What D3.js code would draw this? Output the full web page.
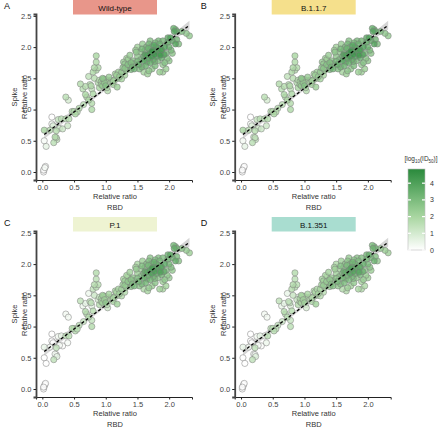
<!DOCTYPE html>
<html><head><meta charset="utf-8">
<script src="https://cdn.jsdelivr.net/npm/d3@7"></script>
<style>body{margin:0;background:#fff;} text{font-family:"Liberation Sans",Arial,sans-serif;}</style>
</head><body>
<svg id="c" width="440" height="430"></svg>
<script>
const variants = ["Wild-type", "B.1.1.7", "P.1", "B.1.351"];
const panelLetters = ["A", "B", "C", "D"];
const stripColors = ["#E8968A", "#F5E08C", "#EEF3D2", "#A9DDD0"];
const xTicks = [0, 0.5, 1.0, 1.5, 2.0];
const yTicks = [0, 0.5, 1.0, 1.5, 2.0, 2.5];
const legendTicks = [0, 1, 2, 3, 4];

const rbd = [0.02,0.03,0.04,0.05,0.02,0.03,0.03,0.06,0.15,0.15,0.17,0.12,0.18,0.20,0.22,0.23,0.22,0.27,0.25,0.30,0.32,0.37,0.42,0.40,0.37,0.41,0.47,0.50,0.52,0.60,0.64,0.68,0.70,0.73,0.73,0.75,0.78,0.78,0.78,0.80,0.82,0.85,0.85,0.85,0.88,0.82,0.88,0.90,0.90,0.93,0.95,0.97,1.00,1.00,1.02,1.03,0.95,1.05,1.08,1.10,1.12,1.15,1.17,1.20,1.20,1.22,1.25,1.18,1.25,1.27,1.30,1.28,1.30,1.32,1.35,1.35,1.38,1.40,1.40,1.42,1.45,1.45,1.47,1.50,1.50,1.52,1.55,1.55,1.57,1.58,1.60,1.60,1.62,1.63,1.64,1.65,1.67,1.66,1.68,1.68,1.70,1.70,1.72,1.72,1.73,1.75,1.75,1.77,1.78,1.78,1.80,1.80,1.82,1.82,1.84,1.85,1.85,1.87,1.88,1.90,1.90,1.92,1.93,1.95,1.97,1.98,2.00,2.00,2.02,2.03,2.05,2.07,2.08,2.10,2.10,2.12,2.15,2.20,2.27,2.32,2.12,1.95,1.90,1.88,1.43,1.48,1.53,1.60,1.57,1.62,1.67,1.73,1.77,1.80,1.70,1.65,1.86,1.93,1.98,2.05,1.76,1.83,1.50,1.38,1.33,1.30,1.12,1.05,1.15,0.98,0.93,0.68,0.77,0.80,0.55,0.58,0.65];
const spike = [0.00,0.04,0.07,0.09,0.03,0.67,0.50,0.41,0.88,0.77,0.74,0.67,0.47,0.56,0.55,0.52,0.66,0.70,0.84,0.85,0.69,0.85,0.85,0.74,1.20,1.15,0.97,0.97,0.93,1.41,1.33,1.24,1.20,1.15,1.53,1.40,1.00,1.10,1.33,1.60,1.67,1.63,1.86,1.76,1.67,1.50,1.43,1.35,1.47,1.45,1.50,1.49,1.48,1.38,1.35,1.30,1.38,1.45,1.47,1.43,1.46,1.48,1.55,1.50,1.60,1.53,1.49,1.36,1.60,1.67,1.66,1.76,1.55,1.63,1.72,1.80,1.87,1.75,1.64,1.68,1.65,1.73,1.95,2.00,1.85,1.72,1.80,1.92,1.68,2.05,1.85,1.78,1.95,1.70,2.00,1.87,1.82,1.57,1.62,2.05,1.90,1.75,2.00,1.85,1.65,1.95,1.80,1.88,2.07,1.70,1.93,1.85,1.98,1.78,1.90,2.05,1.60,1.95,1.83,1.72,2.10,1.88,2.00,1.90,1.82,2.15,2.00,1.78,2.15,1.95,2.10,2.30,2.25,2.28,2.05,2.12,2.05,2.25,2.22,2.18,2.25,1.65,1.60,1.95,1.78,1.92,1.65,1.60,1.97,1.88,1.98,1.93,1.77,2.00,2.10,1.76,1.87,1.75,2.08,1.90,2.03,2.10,1.77,1.70,1.82,1.73,1.40,1.52,1.57,1.43,1.40,1.37,1.38,1.25,0.96,1.02,1.08];
const id50WildType = [0,0,0.2,0,0,2.0,0.2,0.6,0,0.3,0.8,1.5,1.6,1.8,1.5,1.3,1.7,1.2,1.4,1.6,1.2,1.6,1.7,1.2,1.6,1.0,1.8,1.8,1.9,1.8,1.6,1.9,1.8,1.9,1.5,1.7,1.9,1.8,1.5,1.9,1.9,1.8,2.0,1.9,1.8,1.7,1.8,2.0,1.8,2.1,2.6,2.3,2.2,2.8,1.9,1.7,2.5,2.0,1.9,2.0,2.2,2.1,2.3,2.0,2.2,2.4,2.1,2.3,2.5,2.6,2.7,2.4,2.0,2.5,2.8,2.3,2.4,2.9,3.0,3.2,3.4,2.8,2.3,2.2,2.6,3.6,3.0,2.5,3.3,2.4,3.5,3.8,2.9,3.4,3.0,4.0,3.7,2.2,2.6,3.1,4.2,3.6,3.3,4.3,2.5,3.9,3.5,4.4,3.2,3.0,4.1,3.8,3.5,2.9,4.0,3.4,2.3,4.2,3.6,2.4,3.3,3.9,4.1,3.1,2.7,3.7,3.5,2.6,4.0,3.0,3.6,3.4,3.8,3.2,3.9,3.3,2.9,2.8,2.6,2.5,3.5,2.3,2.2,3.8,2.7,2.6,2.9,2.1,3.2,3.9,3.4,4.5,3.2,3.7,2.8,3.3,4.3,2.8,3.6,2.7,3.8,3.1,3.1,2.6,2.2,2.5,2.0,2.4,2.1,2.5,2.2,1.7,1.8,1.9,1.8,1.7,1.6];
const id50B117 = [0,0,0,0,0,2.0,0.3,0.6,0,0.2,0.8,1.5,1.6,1.2,1.5,1.3,1.7,1.2,1.4,1.6,1.2,1.6,1.7,1.2,1.6,1.0,1.8,1.8,1.9,1.8,1.6,1.9,1.8,1.9,1.5,1.7,1.9,1.8,1.5,1.9,1.9,1.8,2.0,1.9,1.8,1.7,1.8,2.0,1.8,2.1,2.6,2.3,2.2,2.8,1.9,1.7,2.5,2.0,1.9,2.0,2.2,2.1,2.3,2.0,2.2,2.4,2.1,2.3,2.5,2.6,2.7,2.4,2.0,2.5,2.8,2.3,2.4,2.9,3.0,3.2,3.4,2.8,2.3,2.2,2.6,3.6,3.0,2.5,3.3,2.4,3.5,3.8,2.9,3.4,3.0,4.0,3.7,2.2,2.6,3.1,4.2,3.6,3.3,4.3,2.5,3.9,3.5,4.4,3.2,3.0,4.1,3.8,3.5,2.9,4.0,3.4,2.3,4.2,3.6,2.4,3.3,3.9,4.1,3.1,2.7,3.7,3.5,2.6,4.0,3.0,3.6,3.4,3.8,3.2,3.9,3.3,2.9,2.8,2.6,2.5,3.5,2.3,2.2,3.8,2.7,2.6,2.9,2.1,3.2,3.9,3.4,4.5,3.2,3.7,2.8,3.3,4.3,2.8,3.6,2.7,3.8,3.1,3.1,2.6,2.2,2.5,2.0,2.4,2.1,2.5,2.2,1.7,1.8,1.9,1.8,1.7,1.6];
const id50P1 = [0,0,0,0,0,0.5,0,0,0,0,0,0.2,1.5,0.3,0.2,0.6,1.5,0.2,0.3,0.5,0.1,1.5,1.6,0.2,0.3,0.3,1.8,1.5,1.6,1.5,0.4,1.8,1.5,1.8,0.4,1.5,1.8,1.4,0.6,1.5,1.7,1.6,1.8,1.6,1.6,1.2,1.0,1.8,1.3,1.9,2.2,2.0,2.0,2.6,1.6,1.2,2.2,1.7,1.6,1.8,2.0,1.8,2.0,1.8,2.0,2.1,1.8,2.2,2.2,2.3,2.5,2.0,1.8,2.3,2.6,2.0,2.2,2.7,2.8,2.9,3.1,2.6,2.1,2.0,2.3,3.3,2.8,2.2,3.0,2.3,3.2,3.5,2.7,3.2,2.8,3.7,3.4,2.0,2.4,2.9,3.9,3.3,3.0,4.0,2.3,3.6,3.2,4.1,3.0,2.7,3.8,3.5,3.2,2.6,3.7,3.1,2.1,3.9,3.3,2.2,3.0,3.6,3.8,2.8,2.5,3.4,3.2,2.4,3.7,2.8,3.3,3.1,3.5,2.9,3.6,3.0,2.7,2.6,2.4,2.3,3.2,2.1,2.0,3.5,2.5,2.4,2.7,1.9,2.9,3.6,3.1,4.2,2.9,3.4,2.6,3.0,4.0,2.6,3.3,2.5,3.5,2.8,2.8,2.4,2.0,2.3,1.8,2.1,1.9,2.2,1.9,0.6,1.5,1.7,1.6,1.5,1.3];
const id50B1351 = [0,0,0,0,0,0.5,0,0,0,0,0,0.3,1.5,0.2,0.2,0.8,1.5,0.2,0.3,0.5,0.1,0.3,1.6,0.4,0.3,0.3,1.5,1.6,1.6,1.5,0.5,1.7,1.6,1.6,0.5,1.5,1.6,1.3,0.8,1.7,1.8,1.6,1.8,1.6,1.6,1.3,1.2,1.8,0.6,1.9,2.0,1.9,1.8,2.2,0.5,1.0,2.0,1.7,1.5,1.7,1.8,1.7,1.9,1.6,1.9,2.0,1.7,2.2,2.0,2.2,2.4,2.0,1.6,2.1,2.4,1.9,2.1,2.5,2.6,2.8,2.9,2.4,2.0,1.9,2.2,3.1,2.7,2.1,2.8,2.2,3.0,3.3,2.5,3.0,2.6,3.5,3.2,1.8,2.2,2.7,3.7,3.1,2.9,3.8,2.1,3.4,3.0,3.9,2.8,2.5,3.6,3.3,3.0,2.5,3.5,3.0,1.9,3.7,3.1,2.0,2.9,3.4,3.6,2.7,2.3,3.2,3.1,2.2,3.5,2.6,3.2,3.0,3.3,2.8,3.4,2.9,2.5,2.4,2.3,2.2,3.1,1.9,1.8,3.3,2.3,2.2,2.5,1.8,2.8,3.4,3.0,4.0,2.8,3.2,2.4,2.9,3.8,2.4,3.2,2.3,3.3,2.7,2.7,2.2,1.9,2.2,1.7,2.0,1.8,2.1,1.8,0.6,1.4,1.7,1.5,1.4,1.2];
const id50ByVariant = [id50WildType, id50B117, id50P1, id50B1351];

const fitX = [0.03, 0.5, 1.0, 1.5, 2.0, 2.32];
const fitY = [0.60, 0.96, 1.34, 1.73, 2.11, 2.35];
const bandHalf = [0.07, 0.04, 0.025, 0.025, 0.045, 0.07];

const svg = d3.select("#c");
const color = d3.scaleLinear().domain([0, 2, 4.85]).range(["#ffffff", "#a8d6a0", "#2a8a3c"]).clamp(true);

const offsets = [[0,0],[198.7,0],[0,217],[198.7,217]];

variants.forEach((v, i) => {
  const [dx, dy] = offsets[i];
  const g = svg.append("g").attr("transform", `translate(${dx},${dy})`);
  const x = d3.scaleLinear().domain([-0.1, 2.36]).range([36, 192]);
  const y = d3.scaleLinear().domain([-0.128, 2.53]).range([180, 14]);

  // strip
  g.append("rect").attr("x", 73).attr("y", 0).attr("width", 84).attr("height", 14.5).attr("fill", stripColors[i]);
  g.append("text").attr("x", 115).attr("y", 10.5).attr("text-anchor", "middle").attr("font-size", 8).attr("fill", "#111").text(v);
  g.append("text").attr("x", i % 2 ? 2 : 4).attr("y", 9).attr("font-size", 9).attr("fill", "#111").text(panelLetters[i]);

  // band + fit
  const band = d3.area().x((d, k) => x(fitX[k])).y0((d, k) => y(fitY[k] - bandHalf[k])).y1((d, k) => y(fitY[k] + bandHalf[k])).curve(d3.curveMonotoneX);
  g.append("path").datum(fitX).attr("d", band).attr("fill", "#cfcfcf").attr("opacity", 0.85);

  const id = id50ByVariant[i];
  const idx = d3.range(rbd.length).sort((a, b) => id[a] - id[b]);
  g.append("g").selectAll("circle").data(idx).join("circle")
    .attr("cx", k => x(rbd[k])).attr("cy", k => y(spike[k])).attr("r", 3.1)
    .attr("fill", k => color(id[k])).attr("fill-opacity", 0.8)
    .attr("stroke", "#7d7d7d").attr("stroke-width", 0.6).attr("stroke-opacity", 0.85);

  g.append("path").datum(fitX).attr("d", d3.line().x((d, k) => x(fitX[k])).y((d, k) => y(fitY[k])))
    .attr("fill", "none").attr("stroke", "#000").attr("stroke-width", 1.3).attr("stroke-dasharray", "3,2.2");

  // axes
  const xa = g.append("g").attr("transform", "translate(0,180)").call(d3.axisBottom(x).tickValues(xTicks).tickFormat(d3.format(".1f")).tickSize(2.5).tickPadding(2));
  xa.select(".domain").attr("stroke", "#222").attr("stroke-width", 1);
  xa.selectAll("text").attr("font-size", 7.5).attr("fill", "#444").attr("font-family", "Liberation Sans, Arial, sans-serif");
  xa.selectAll(".tick line").attr("stroke", "#222");
  const ya = g.append("g").attr("transform", "translate(36,0)").call(d3.axisLeft(y).tickValues(yTicks).tickFormat(d3.format(".1f")).tickSize(2.5).tickPadding(2));
  ya.select(".domain").attr("stroke", "#444").attr("stroke-width", 1.8);
  ya.selectAll("text").attr("font-size", 7.5).attr("fill", "#444").attr("font-family", "Liberation Sans, Arial, sans-serif");
  ya.selectAll(".tick line").attr("stroke", "#222");

  g.append("text").attr("x", 115).attr("y", 199).attr("text-anchor", "middle").attr("font-size", 7.5).attr("fill", "#333").text("Relative ratio");
  g.append("text").attr("x", 115).attr("y", 209.5).attr("text-anchor", "middle").attr("font-size", 7.5).attr("fill", "#333").text("RBD");
  g.append("text").attr("transform", "translate(16.5,97) rotate(-90)").attr("text-anchor", "middle").attr("font-size", 7.5).attr("fill", "#333").text("Spike");
  g.append("text").attr("transform", "translate(27,97) rotate(-90)").attr("text-anchor", "middle").attr("font-size", 7.5).attr("fill", "#333").text("Relative ratio");
});

// legend
const defs = svg.append("defs");
const grad = defs.append("linearGradient").attr("id", "lg").attr("x1", 0).attr("y1", 1).attr("x2", 0).attr("y2", 0);
d3.range(0, 1.001, 0.1).forEach(t => grad.append("stop").attr("offset", t).attr("stop-color", color(t * 4.85)));
const ly = d3.scaleLinear().domain([0, 4.85]).range([250, 169]);
svg.append("rect").attr("x", 408).attr("y", 169).attr("width", 17).attr("height", 81).attr("fill", "url(#lg)").attr("stroke", "#bbb").attr("stroke-width", 0.6);
legendTicks.forEach(t => {
  svg.append("line").attr("x1", 408).attr("x2", 411).attr("y1", ly(t)).attr("y2", ly(t)).attr("stroke", "#fff").attr("stroke-width", 1.2);
  svg.append("line").attr("x1", 422).attr("x2", 425).attr("y1", ly(t)).attr("y2", ly(t)).attr("stroke", "#fff").attr("stroke-width", 1.2);
  svg.append("text").attr("x", 430).attr("y", ly(t) + 2.5).attr("font-size", 7).attr("fill", "#333").text(t);
});
const lt = svg.append("text").attr("x", 421).attr("y", 161).attr("text-anchor", "middle").attr("font-size", 6.5).attr("fill", "#333");
lt.append("tspan").text("[log");
lt.append("tspan").attr("font-size", 4.5).attr("dy", 1.5).text("10");
lt.append("tspan").attr("dy", -1.5).text("(ID");
lt.append("tspan").attr("font-size", 4.5).attr("dy", 1.5).text("50");
lt.append("tspan").attr("dy", -1.5).text(")]");
</script>
</body></html>
